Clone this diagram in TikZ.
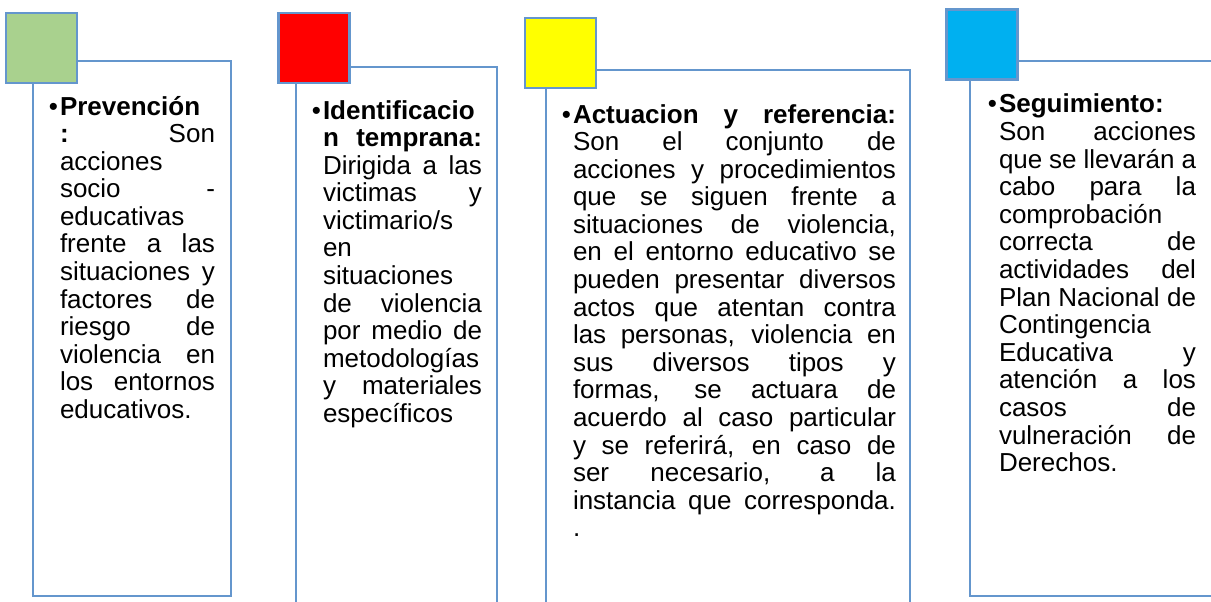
\documentclass[tikz,border=0pt]{standalone}
\usepackage{fontspec}
\setmainfont{Liberation Sans}
\definecolor{lineblue}{RGB}{100,150,205}
\definecolor{sqgreen}{HTML}{A9D18E}
\definecolor{sqred}{HTML}{FF0000}
\definecolor{sqyellow}{HTML}{FFFF00}
\definecolor{sqblue}{HTML}{00B0F0}
\newcommand{\jl}[1]{\leavevmode\hbox to \hsize{\spaceskip=0pt\relax\xspaceskip=0pt\relax #1}}
\newcommand{\bul}{\leavevmode\llap{\char"2022\hspace{2pt}}}
\tikzset{
  frame/.style={draw=lineblue, line width=2.5pt},
  sqbox/.style={draw=lineblue, line width=2.5pt, minimum width=71pt, minimum height=70pt, inner sep=0pt, outer sep=0pt},
  txt/.style={anchor=base west, inner sep=0pt, outer sep=0pt, align=left, font=\fontsize{26}{27.6}\selectfont}
}
\begin{document}
\begin{tikzpicture}[x=1pt,y=-1pt]
\useasboundingbox (0,0) rectangle (1211,602);
\clip (0,0) rectangle (1211,602);
\fill[white] (0,0) rectangle (1211,602);
% frames
\draw[frame] (33,61) rectangle (231,596);
\draw[frame] (296,67) rectangle (497,630);
\draw[frame] (546,70) rectangle (910,630);
\draw[frame] (970,61) rectangle (1240,596);
% squares
\node[sqbox, fill=sqgreen] (s1) at (41.5,48) {};
\node[sqbox, fill=sqred] (s2) at (314,48) {};
\node[sqbox, fill=sqyellow] (s3) at (560.5,53) {};
\node[sqbox, fill=sqblue] (s4) at (982,44.5) {};
% texts
\node[txt, text width=155pt] (t1) at (60,115) {%
\bul\textbf{Prevención}\\
\jl{\textbf{:} Son}\\
acciones\\
\jl{socio -}\\
educativas\\
\jl{frente a las}\\
\jl{situaciones y}\\
\jl{factores de}\\
\jl{riesgo de}\\
\jl{violencia en}\\
\jl{los entornos}\\
educativos.};
\node[txt, text width=159pt] (t2) at (323,119) {%
\bul\textbf{Identificacio}\\
\jl{\textbf{n temprana:}}\\
\jl{Dirigida a las}\\
\jl{victimas y}\\
victimario/s\\
en\\
situaciones\\
\jl{de violencia}\\
\jl{por medio de}\\
metodologías\\
\jl{y materiales}\\
específicos};
\node[txt, text width=323pt] (t3) at (573,123) {%
\bul\jl{\textbf{Actuacion y referencia:}}\\
\jl{Son el conjunto de}\\
\jl{acciones y procedimientos}\\
\jl{que se siguen frente a}\\
\jl{situaciones de violencia,}\\
\jl{en el entorno educativo se}\\
\jl{pueden presentar diversos}\\
\jl{actos que atentan contra}\\
\jl{las personas, violencia en}\\
\jl{sus diversos tipos y}\\
\jl{formas, se actuara de}\\
\jl{acuerdo al caso particular}\\
\jl{y se referirá, en caso de}\\
\jl{ser necesario, a la}\\
\jl{instancia que corresponda.}\\
.};
\node[txt, text width=197pt] (t4) at (999,113) {%
\bul\textbf{Seguimiento:}\\
\jl{Son acciones}\\
\jl{que se llevarán a}\\
\jl{cabo para la}\\
comprobación\\
\jl{correcta de}\\
\jl{actividades del}\\
\jl{Plan Nacional de}\\
Contingencia\\
\jl{Educativa y}\\
\jl{atención a los}\\
\jl{casos de}\\
\jl{vulneración de}\\
Derechos.};
\end{tikzpicture}
\end{document}
